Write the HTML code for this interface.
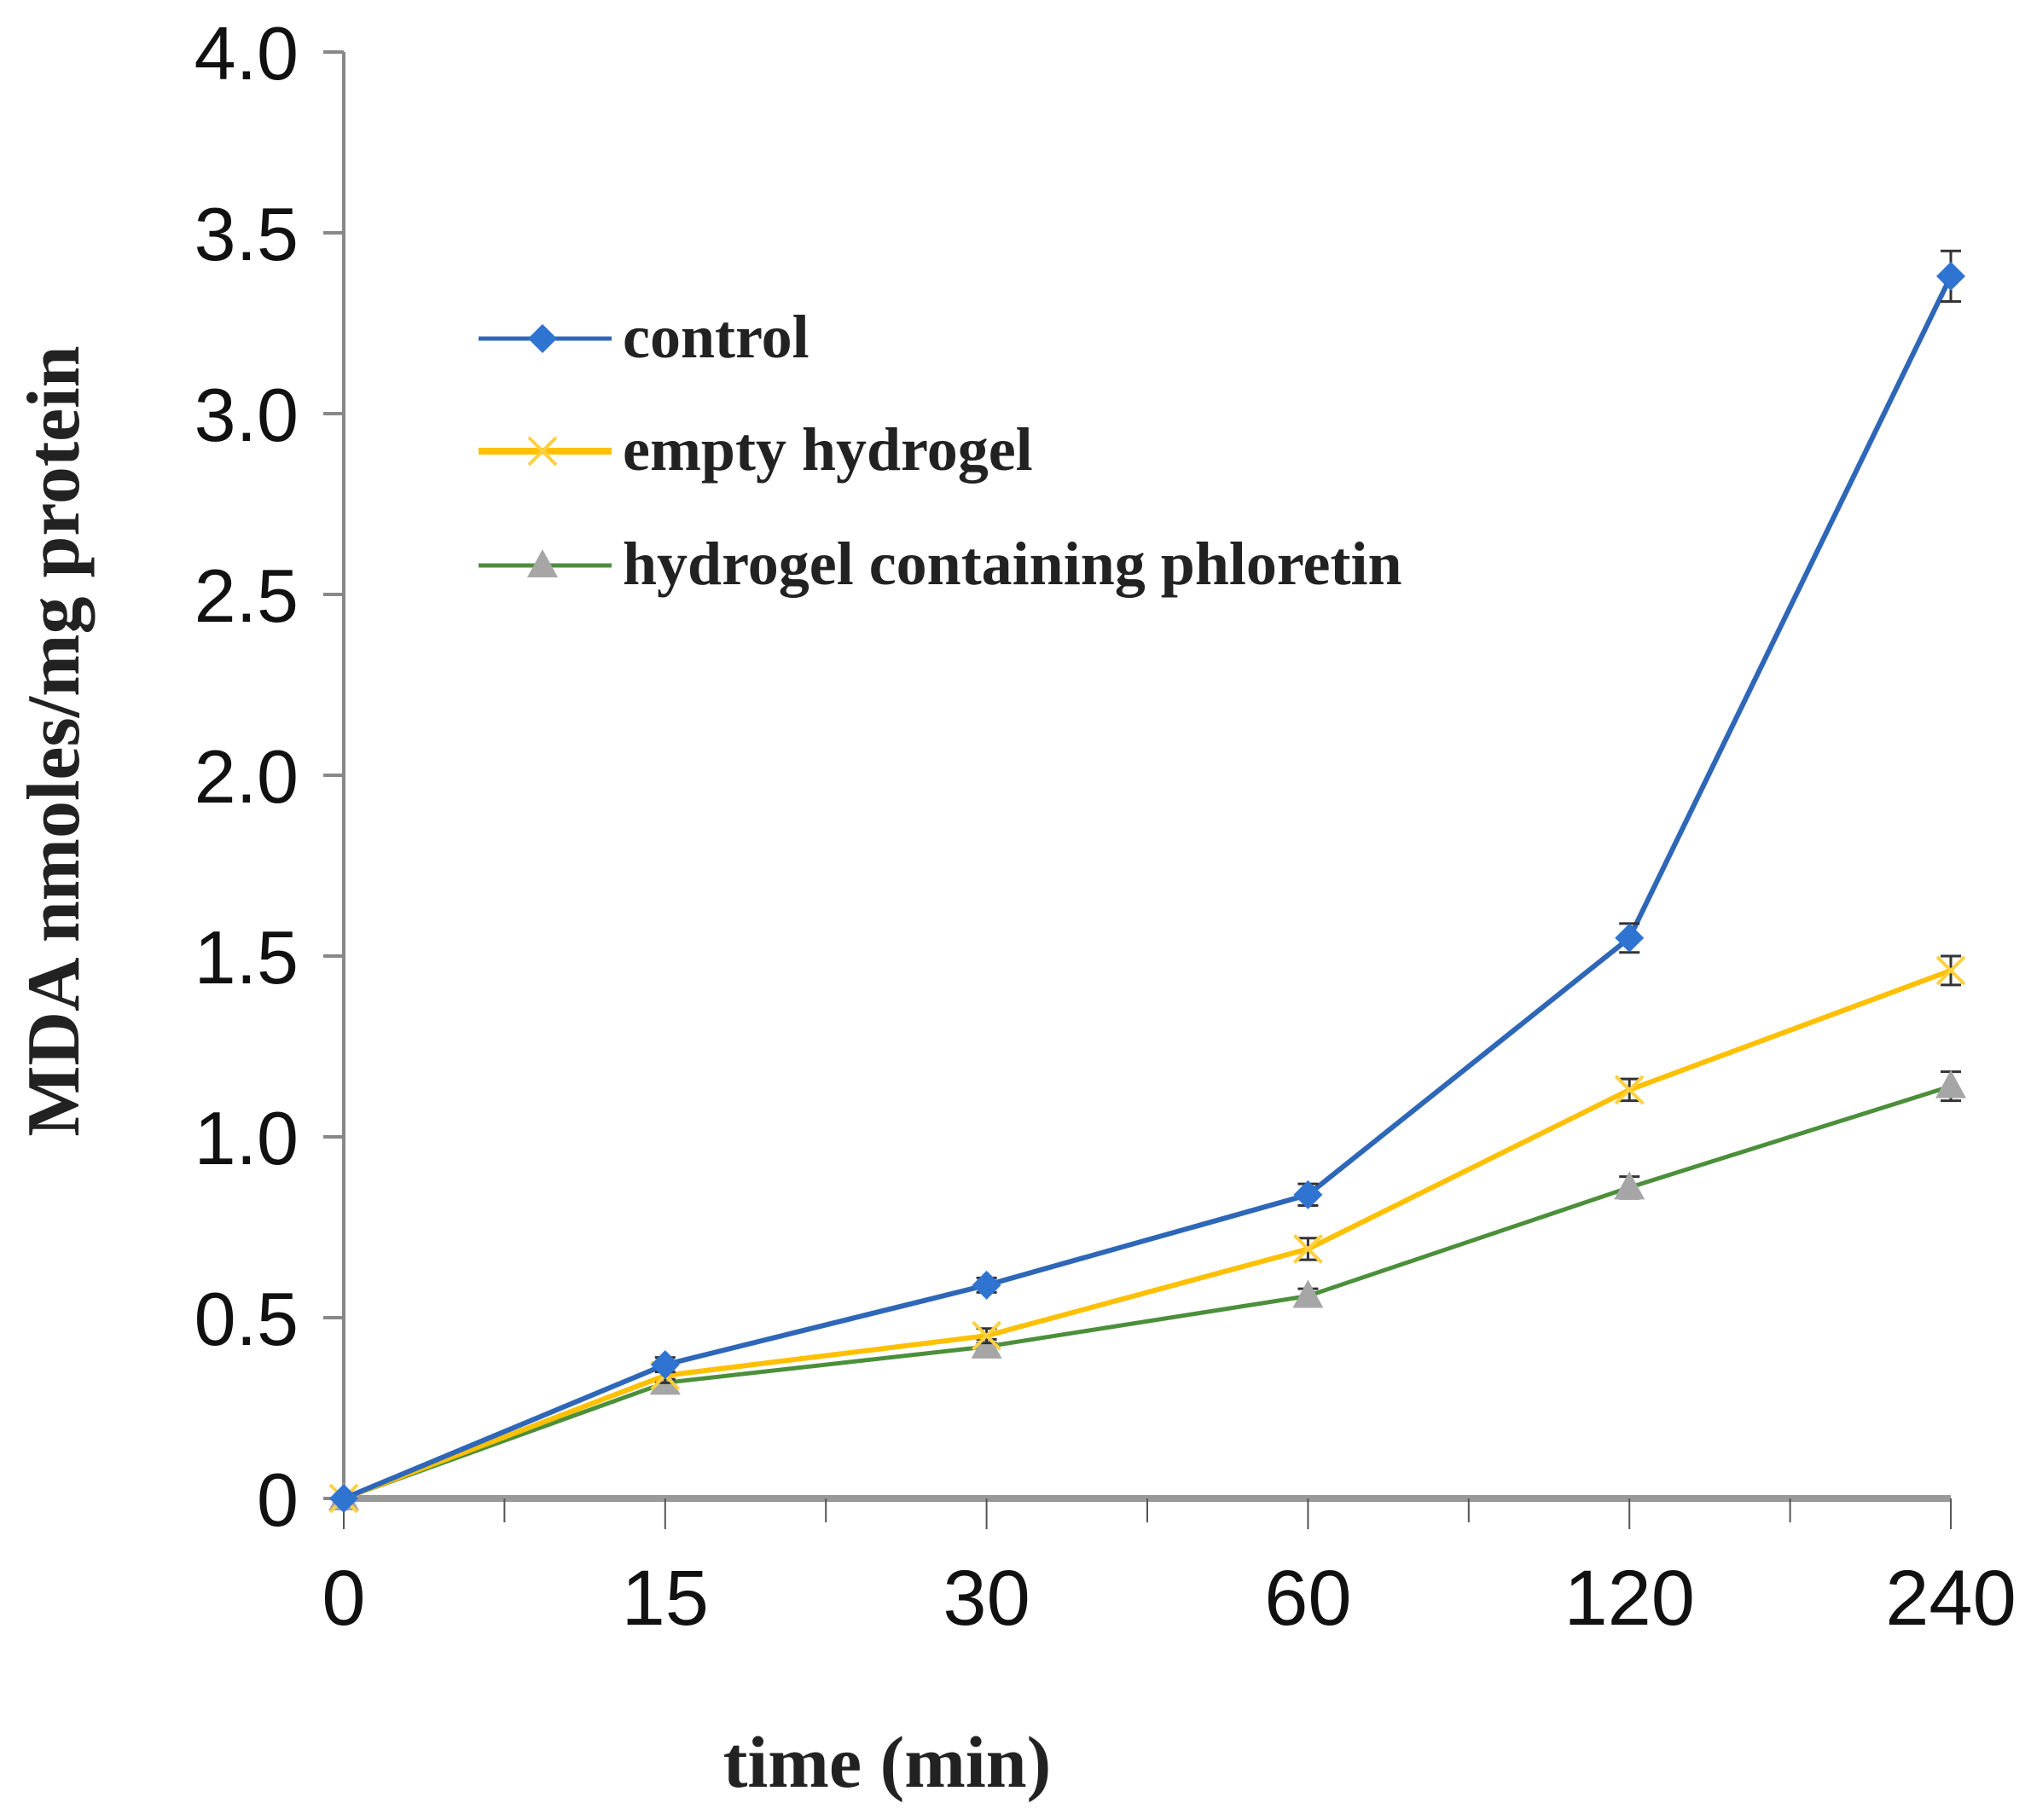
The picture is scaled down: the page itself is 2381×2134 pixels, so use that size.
<!DOCTYPE html>
<html><head><meta charset="utf-8"><style>
html,body{margin:0;padding:0;background:#fff;}
svg{display:block;}
</style></head><body>
<svg id="chart" width="2381" height="2134" viewBox="0 0 2381 2134" xmlns="http://www.w3.org/2000/svg">
<g id="axes"></g>
<g id="series"></g>
<g id="legend"></g>
<text transform="translate(92,869) rotate(-90)" text-anchor="middle" font-family="Liberation Serif, serif" font-weight="bold" font-size="88" fill="#222">MDA nmoles/mg protein</text>
<text x="1040" y="2095" text-anchor="middle" font-family="Liberation Serif, serif" font-weight="bold" font-size="86" fill="#222">time (min)</text>
</svg>
<script>
const categories = ["0","15","30","60","120","240"];
const controlValues = [0, 0.37, 0.59, 0.84, 1.55, 3.38];
const emptyValues = [0, 0.34, 0.45, 0.69, 1.13, 1.46];
const phloretinValues = [0, 0.32, 0.42, 0.56, 0.86, 1.14];
const controlErr = [0, 0.02, 0.02, 0.03, 0.04, 0.07];
const emptyErr = [0, 0.02, 0.02, 0.03, 0.03, 0.04];
const phloretinErr = [0, 0.01, 0.02, 0.02, 0.03, 0.04];
const yTicks = [0, 0.5, 1.0, 1.5, 2.0, 2.5, 3.0, 3.5, 4.0];
const yTickLabels = ["0","0.5","1.0","1.5","2.0","2.5","3.0","3.5","4.0"];
const seriesNames = ["control","empty hydrogel","hydrogel containing phloretin"];

const NS = "http://www.w3.org/2000/svg";
const X0 = 403, XSTEP = 376.8, Y0 = 1757, YPER = 424;
function xs(i){ return X0 + i*XSTEP; }
function ys(v){ return Y0 - v*YPER; }
function mk(tag, attrs, parent){ const e=document.createElementNS(NS,tag); for(const k in attrs) e.setAttribute(k,attrs[k]); parent.appendChild(e); return e; }

const axes=document.getElementById('axes');
let l=mk('line',{x1:X0,y1:ys(4),x2:X0,y2:Y0,stroke:'#888','stroke-width':4},axes);


l=mk('line',{x1:X0,y1:Y0,x2:xs(categories.length-1),y2:Y0,stroke:'#999','stroke-width':8},axes);


yTicks.forEach((v,i)=>{
  const t=mk('line',{x1:X0-24,y1:ys(v),x2:X0,y2:ys(v),stroke:'#888','stroke-width':4},axes);
  
  
  const tx=mk('text',{x:350,y:ys(v)+32,'text-anchor':'end','font-family':'Liberation Sans, sans-serif','font-size':88,fill:'#111'},axes);
  tx.textContent=yTickLabels[i];
  
  
});
for(let i=0;i<categories.length*2-1;i++){
  const x=X0+i*XSTEP/2;
  const t=mk('line',{x1:x,y1:Y0,x2:x,y2:Y0+(i%2===0?36:28),stroke:'#555','stroke-width':2},axes);
  
  
}
categories.forEach((c,i)=>{
  const tx=mk('text',{x:xs(i),y:1905,'text-anchor':'middle','font-family':'Liberation Sans, sans-serif','font-size':92,fill:'#111'},axes);
  tx.textContent=c;
  
  
});

function marker(type,x,y,parent,color){
  let m;
  if(type==='diamond'){ m=mk('path',{d:`M${x} ${y-17}L${x+17} ${y}L${x} ${y+17}L${x-17} ${y}Z`,fill:'#2f74d0'},parent); }
  else if(type==='x'){ m=mk('path',{d:`M${x-16} ${y-16}L${x+16} ${y+16}M${x-16} ${y+16}L${x+16} ${y-16}`,stroke:'#ffd040','stroke-width':4,fill:'none'},parent); }
  else { m=mk('path',{d:`M${x} ${y-19}L${x+18} ${y+14}L${x-18} ${y+14}Z`,fill:'#a6a6a6'},parent); }
  return m;
}
const seriesDefs=[
  {vals:controlValues,err:controlErr,color:'#2e67b8',mk:'diamond',name:'control-line',w:6},
  {vals:emptyValues,err:emptyErr,color:'#ffc000',mk:'x',name:'empty-hydrogel-line',w:6},
  {vals:phloretinValues,err:phloretinErr,color:'#4b8f3a',mk:'tri',name:'phloretin-line',w:5}
];
const sg=document.getElementById('series');
seriesDefs.slice().reverse().forEach(s=>{
  const g=mk('g',{},sg);
  
  
  const pts=s.vals.map((v,i)=>xs(i)+','+ys(v)).join(' ');
  const pl=mk('polyline',{points:pts,fill:'none',stroke:s.color,'stroke-width':s.w,'stroke-linejoin':'round'},g);
  
  
  s.vals.forEach((v,i)=>{
    if(s.err[i]>0){
      const eb=mk('path',{d:`M${xs(i)} ${ys(v+s.err[i])}V${ys(v-s.err[i])}M${xs(i)-12} ${ys(v+s.err[i])}H${xs(i)+12}M${xs(i)-12} ${ys(v-s.err[i])}H${xs(i)+12}`,stroke:'#333','stroke-width':3,fill:'none'},g);
      
      
    }
    const m=marker(s.mk,xs(i),ys(v),g,s.color);
    
    
  });
});

const lg=document.getElementById('legend');
const legY=[397,529,663];
seriesDefs.forEach((s,i)=>{
  const g=mk('g',{},lg);
  
  
  mk('line',{x1:561,y1:legY[i],x2:717,y2:legY[i],stroke:s.color,'stroke-width':s.mk==='x'?8:5},g);
  marker(s.mk,636,legY[i],g,s.color);
  const t=mk('text',{x:730,y:legY[i]+22,'font-family':'Liberation Serif, serif','font-weight':'bold','font-size':72,fill:'#222'},g);
  t.textContent=seriesNames[i];
});
</script>
</body></html>
